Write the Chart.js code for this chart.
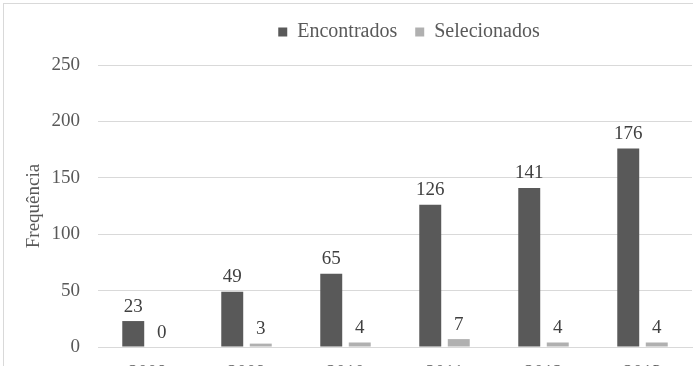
<!DOCTYPE html>
<html>
<head>
<meta charset="utf-8">
<script src="https://cdn.jsdelivr.net/npm/chart.js@4.4.0/dist/chart.umd.min.js"></script>
<style>
  html, body { margin: 0; padding: 0; background: #fff; overflow: hidden; }
  #wrap { position: absolute; left: 0; top: 0; width: 700px; height: 366px; overflow: hidden; }
</style>
</head>
<body>
<div id="wrap"><canvas id="chart" width="700" height="410"></canvas></div>
<script>
// Dados do gráfico
const anos = ['2008', '2009', '2010', '2011', '2012', '2013'];
const encontrados = [23, 49, 65, 126, 141, 176];
const selecionados = [0, 3, 4, 7, 4, 4];
const ticksY = [0, 50, 100, 150, 200, 250];

const fonte = 'Liberation Serif';
Chart.defaults.font.family = fonte;

// Moldura cinza clara do gráfico
const moldura = {
    id: 'moldura',
    beforeDraw(chart) {
        const ctx = chart.ctx;
        ctx.save();
        ctx.strokeStyle = '#d9d9d9';
        ctx.lineWidth = 1;
        ctx.strokeRect(3.5, 3.5, chart.width + 10, chart.height + 10);
        ctx.restore();
    }
};

// Desloca a legenda para a posição do original
const posLegenda = {
    id: 'posLegenda',
    afterLayout(chart) {
        const lg = chart.legend;
        const dx = 409 - (lg.left + lg.right) / 2;
        lg.left += dx;
        lg.right += dx;
        lg.top -= 13;
        lg.bottom -= 13;
    }
};

// Rótulos de valores sobre as barras
const rotulos = {
    id: 'rotulos',
    afterDatasetsDraw(chart) {
        const ctx = chart.ctx;
        ctx.save();
        ctx.font = '19px "' + fonte + '"';
        ctx.fillStyle = '#404040';
        ctx.textAlign = 'center';
        ctx.textBaseline = 'alphabetic';
        chart.data.datasets.forEach((ds, i) => {
            chart.getDatasetMeta(i).data.forEach((bar, j) => {
                ctx.fillText(ds.data[j], bar.x, bar.y - 9.5);
            });
        });
        ctx.restore();
    }
};

new Chart(document.getElementById('chart'), {
    type: 'bar',
    data: {
        labels: anos,
        datasets: [
            { label: 'Encontrados', data: encontrados, backgroundColor: '#595959',
              barPercentage: 0.77, categoryPercentage: 0.576 },
            { label: 'Selecionados', data: selecionados, backgroundColor: '#b0b0b0',
              barPercentage: 0.77, categoryPercentage: 0.576 }
        ]
    },
    options: {
        responsive: false,
        animation: false,
        layout: { padding: { top: 17, right: 8, left: 0, bottom: 0 } },
        plugins: {
            legend: {
                position: 'top',
                labels: {
                    boxWidth: 9,
                    boxHeight: 9,
                    padding: 18,
                    color: '#595959',
                    font: { family: fonte, size: 20 }
                }
            },
            tooltip: { enabled: false }
        },
        scales: {
            x: {
                grid: { display: false, drawTicks: false },
                border: { color: '#d9d9d9' },
                ticks: { color: '#595959', font: { family: fonte, size: 19 }, padding: 15 },
                afterFit(s) { s.height = 63; }
            },
            y: {
                min: 0,
                max: 250,
                afterBuildTicks(s) { s.ticks = ticksY.map(v => ({ value: v })); },
                grid: { color: '#d9d9d9', drawTicks: false },
                border: { display: false },
                ticks: { color: '#595959', font: { family: fonte, size: 19 }, padding: 18 },
                title: {
                    display: true,
                    text: 'Frequência',
                    color: '#595959',
                    font: { family: fonte, size: 19 },
                    padding: { top: 23, bottom: 0 }
                },
                afterFit(s) { s.width = 98; }
            }
        }
    },
    plugins: [moldura, posLegenda, rotulos]
});
</script>
</body>
</html>
